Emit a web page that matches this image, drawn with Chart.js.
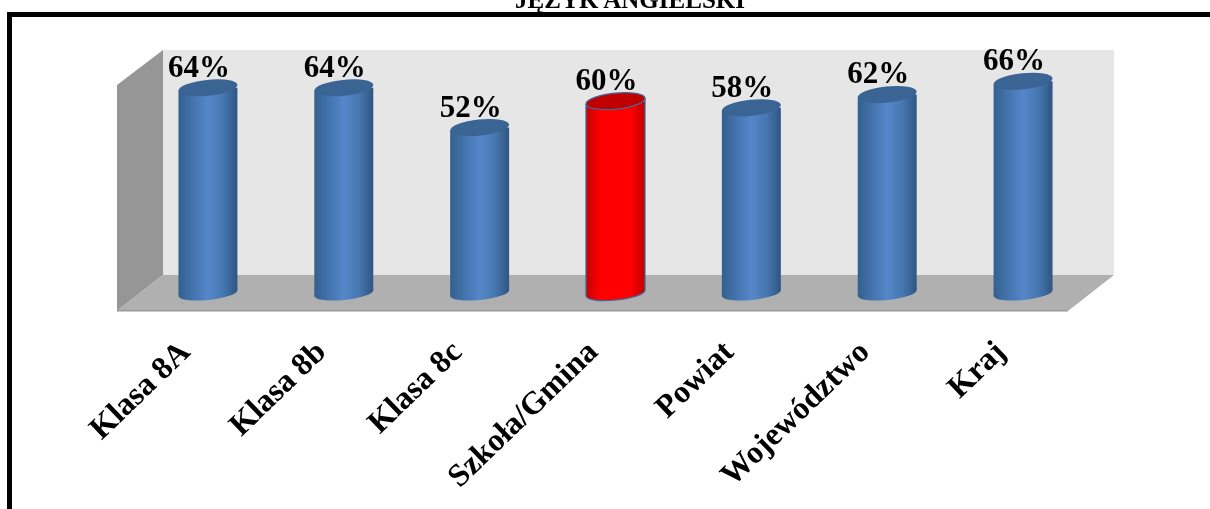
<!DOCTYPE html>
<html>
<head>
<meta charset="utf-8">
<script src="https://cdn.jsdelivr.net/npm/chart.js@4"></script>
<style>
	html, body { margin: 0; padding: 0; background: #fff; overflow: hidden; }
	#wrap { position: relative; width: 1210px; height: 509px; }
	#title {
		position: absolute; left: 0; top: 0; width: 1260px; height: 12px; overflow: hidden;
		text-align: center; font: bold 25px "Liberation Serif", serif; line-height: 0px; color: #000;
	}
	#frame { position: absolute; left: 7px; top: 12px; right: 0; bottom: 0; border-left: 5px solid #000; border-top: 5px solid #000; }
	canvas { position: absolute; left: 0; top: 0; }
</style>
</head>
<body>
<div id="wrap">
	<canvas id="chart" width="1210" height="509"></canvas>
	<div id="frame"></div>
	<div id="title">JĘZYK ANGIELSKI</div>
</div>
<script>
const categories = ["Klasa 8A", "Klasa 8b", "Klasa 8c", "Szkoła/Gmina", "Powiat", "Województwo", "Kraj"];
const values = [64, 64, 52, 60, 58, 62, 66];
const highlightIndex = 3;

const AXIS_MIN = 2;
const AXIS_MAX = 70;
const BAR_PCT = 0.434;
const DEPTH_X = 23;
const DEPTH_Y = 18;
const TILT = 3;
const CAP_RY = 8;
const SERIF = '"Liberation Serif", serif';

function barGradient(ctx, x, w, red) {
	const g = ctx.createLinearGradient(x - w / 2, 0, x + w / 2, 0);
	const stops = red
		? ["#c80000", "#ff0000", "#ff0000", "#ff0000", "#c00000"]
		: ["#34608f", "#4474ae", "#5586c9", "#4778b2", "#2f5582"];
	stops.forEach((c, i) => g.addColorStop(i / 4, c));
	return g;
}

function capAngle(w) {
	return -Math.atan2(TILT * 2, w);
}

const walls = {
	id: "walls",
	beforeDatasetsDraw(chart) {
		const { ctx, chartArea: a } = chart;
		const frontL = a.left - DEPTH_X, backL = a.left + DEPTH_X;
		const frontR = a.right - DEPTH_X, backR = a.right + DEPTH_X;
		const backTop = a.top - DEPTH_Y, backBot = a.bottom - DEPTH_Y, frontTop = a.top + DEPTH_Y - 1, frontBot = a.bottom + DEPTH_Y;

		ctx.save();
		ctx.fillStyle = "#e6e6e6";
		ctx.fillRect(backL, backTop, backR - backL, backBot - backTop);

		ctx.fillStyle = "#969696";
		ctx.beginPath();
		ctx.moveTo(frontL, frontTop);
		ctx.lineTo(backL, backTop);
		ctx.lineTo(backL, backBot);
		ctx.lineTo(frontL, frontBot);
		ctx.closePath();
		ctx.fill();

		ctx.fillStyle = "#b0b0b0";
		ctx.beginPath();
		ctx.moveTo(frontL, frontBot);
		ctx.lineTo(backL, backBot);
		ctx.lineTo(backR, backBot);
		ctx.lineTo(frontR, frontBot);
		ctx.closePath();
		ctx.fill();

		ctx.fillStyle = "#9a9a9a";
		ctx.fillRect(frontL, frontBot - 1, frontR - frontL, 1.5);
		ctx.restore();

		// bars are cut to a slanted outline so they meet the tilted end caps
		ctx.save();
		ctx.beginPath();
		chart.getDatasetMeta(0).data.forEach((bar) => {
			const half = bar.width / 2;
			ctx.moveTo(bar.x - half - 1, bar.y + TILT + 0.1);
			ctx.lineTo(bar.x + half + 1, bar.y - TILT - 0.1);
			ctx.lineTo(bar.x + half + 1, bar.base - 4);
			ctx.lineTo(bar.x - half - 1, bar.base - 4);
			ctx.closePath();
		});
		ctx.clip();
	},
	afterDatasetsDraw(chart) {
		const { ctx } = chart;
		ctx.restore();
		ctx.save();
		chart.getDatasetMeta(0).data.forEach((bar, i) => {
			const red = i === highlightIndex;
			const half = bar.width / 2;
			const angle = capAngle(bar.width);
			const rx = Math.hypot(half, TILT);

			// lower cap, running a little up into the bar to hide the clip seam
			ctx.beginPath();
			ctx.ellipse(bar.x, bar.base, rx, CAP_RY - 1, angle, 0, Math.PI);
			ctx.lineTo(bar.x - half, bar.base - 5);
			ctx.lineTo(bar.x + half, bar.base - 5);
			ctx.closePath();
			ctx.fillStyle = barGradient(ctx, bar.x, bar.width, red);
			ctx.fill();

			ctx.strokeStyle = "#3f6797";
			ctx.lineWidth = 1.3;
			if (red) {
				ctx.beginPath();
				ctx.moveTo(bar.x + half, bar.y - TILT);
				ctx.lineTo(bar.x + half, bar.base - TILT);
				ctx.ellipse(bar.x, bar.base, rx, CAP_RY - 1, angle, 0, Math.PI);
				ctx.lineTo(bar.x - half, bar.y + TILT);
				ctx.stroke();
			}

			ctx.beginPath();
			ctx.ellipse(bar.x, bar.y, rx, CAP_RY, angle, 0, Math.PI * 2);
			ctx.fillStyle = red ? "#c00000" : "#3a6493";
			ctx.fill();
			if (red) ctx.stroke();

			ctx.fillStyle = "#000";
			ctx.font = `bold 31px ${SERIF}`;
			ctx.textAlign = "center";
			ctx.textBaseline = "alphabetic";
			ctx.fillText(values[i] + "%", bar.x - 9, bar.y - 11);
		});
		ctx.restore();
	},
};

new Chart(document.getElementById("chart"), {
	type: "bar",
	data: {
		labels: categories,
		datasets: [
			{
				data: values,
				base: AXIS_MIN,
				barPercentage: BAR_PCT,
				categoryPercentage: 1,
				borderWidth: 0,
				backgroundColor: (c) => {
					const { chart, dataIndex } = c;
					if (!chart.chartArea) return "#4f81bd";
					const x = chart.scales.x.getPixelForValue(dataIndex);
					const w = (chart.chartArea.width / categories.length) * BAR_PCT;
					return barGradient(chart.ctx, x, w, dataIndex === highlightIndex);
				},
			},
		],
	},
	options: {
		responsive: false,
		animation: false,
		devicePixelRatio: 1,
		layout: { padding: { left: 140, right: 119, top: 68, bottom: 0 } },
		plugins: { legend: { display: false }, tooltip: { enabled: false }, title: { display: false } },
		scales: {
			y: { display: false, min: AXIS_MIN, max: AXIS_MAX },
			x: {
				grid: { display: false },
				border: { display: false },
				afterFit: (scale) => { scale.height = 216; },
				ticks: {
					autoSkip: false,
					minRotation: 44,
					maxRotation: 44,
					padding: 33,
					labelOffset: -22,
					color: "#000",
					font: { family: SERIF, weight: "bold", size: 32 },
				},
			},
		},
	},
	plugins: [walls],
});
</script>
</body>
</html>
